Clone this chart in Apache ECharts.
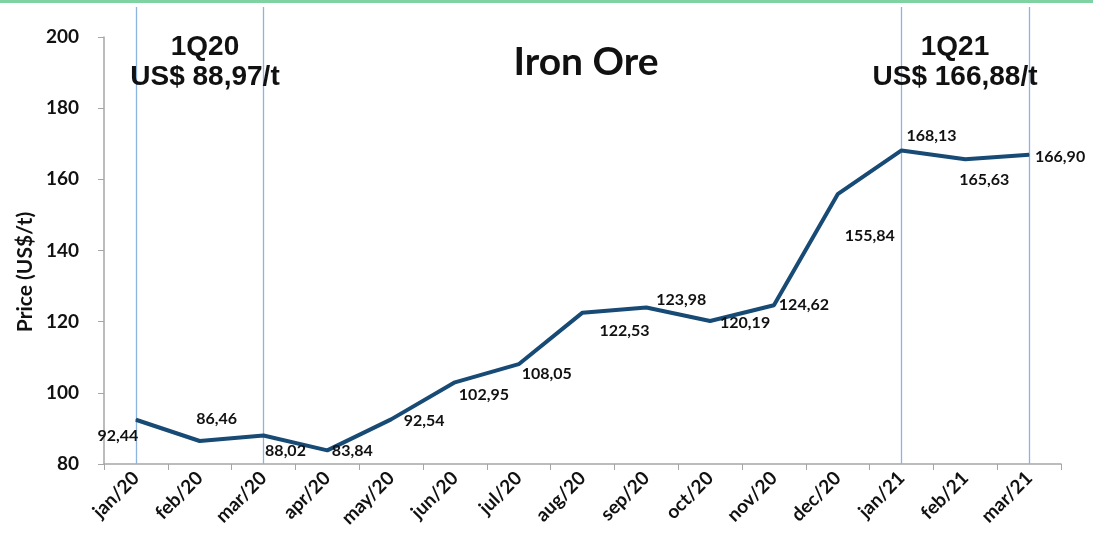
<!DOCTYPE html>
<html>
<head>
<meta charset="utf-8">
<script src="https://cdn.jsdelivr.net/npm/echarts@6/dist/echarts.min.js"></script>
<style>
html,body{margin:0;padding:0;background:#fff;}
#chart{width:1093px;height:533px;}
</style>
</head>
<body>
<div id="chart"></div>
<script>
const categories = ['jan/20','feb/20','mar/20','apr/20','may/20','jun/20','jul/20','aug/20','sep/20','oct/20','nov/20','dec/20','jan/21','feb/21','mar/21'];
const prices = [92.44, 86.46, 88.02, 83.84, 92.54, 102.95, 108.05, 122.53, 123.98, 120.19, 124.62, 155.84, 168.13, 165.63, 166.90];
const yTicks = [80, 100, 120, 140, 160, 180, 200];
const quarterMarkers = ['jan/20', 'mar/20', 'jan/21', 'mar/21'];
const quarterNotes = [
  { label: '1Q20', value: 'US$ 88,97/t' },
  { label: '1Q21', value: 'US$ 166,88/t' }
];

// label placement (styling only)
const labelOffsets = [[-18,16],[17,-22],[22,15],[25,1],[33,1],[29,13],[28,10],[42,18],[35,-8],[35,2],[30,0],[32,42],[30,-15],[19,21],[31,2]];

const fmt = v => v.toFixed(2).replace('.', ',');

const lineData = prices.map((v, i) => ({
  value: v,
  label: { offset: labelOffsets[i] }
}));

const chart = echarts.init(document.getElementById('chart'), null, { renderer: 'canvas' });
const labelFont = 'Lato, "Open Sans", sans-serif';
const titleFont = '"Liberation Sans", Arial, sans-serif';

chart.setOption({
  backgroundColor: '#ffffff',
  animation: false,
  title: [
    { text: 'Iron Ore', left: 581, top: 38, textAlign: 'center',
      textStyle: { fontFamily: labelFont, fontWeight: 'bold', fontSize: 39, color: '#111' } },
    { text: quarterNotes[0].label + '\n' + quarterNotes[0].value, left: 200, top: 27, textAlign: 'center',
      textStyle: { fontFamily: titleFont, fontWeight: 'bold', fontSize: 28, lineHeight: 30, color: '#111', align: 'center' } },
    { text: quarterNotes[1].label + '\n' + quarterNotes[1].value, left: 950, top: 27, textAlign: 'center',
      textStyle: { fontFamily: titleFont, fontWeight: 'bold', fontSize: 28, lineHeight: 30, color: '#111', align: 'center' } }
  ],
  graphic: [
    { type: 'rect', left: 0, top: 0, shape: { width: 1093, height: 3 }, style: { fill: '#7fd3a2' }, z: 100 },
    { type: 'text', x: 25, y: 272, rotation: Math.PI / 2,
      style: { text: 'Price (US$/t)', fill: '#111', font: 'bold 21px ' + labelFont, align: 'center', verticalAlign: 'middle' } }
  ],
  grid: [
    { left: 104, right: 32, top: 37, bottom: 69, containLabel: false },
    { left: 104, right: 32, top: 7, bottom: 69, containLabel: false }
  ],
  xAxis: [
    {
      type: 'category', gridIndex: 0, data: categories, boundaryGap: true,
      axisLine: { show: true, lineStyle: { color: '#a6a6a6', width: 1.5 } },
      axisTick: { show: true, length: 6, alignWithLabel: false, lineStyle: { color: '#a6a6a6' } },
      axisLabel: { rotate: 45, margin: 11, interval: 0, color: '#111',
        fontFamily: labelFont, fontWeight: 'bold', fontSize: 19 },
      splitLine: { show: false }
    },
    { type: 'category', gridIndex: 1, data: categories, boundaryGap: true, show: false }
  ],
  yAxis: [
    {
      type: 'value', gridIndex: 0, min: yTicks[0], max: yTicks[yTicks.length - 1], interval: 20,
      axisLine: { show: true, lineStyle: { color: '#a6a6a6', width: 1.5 } },
      axisTick: { show: true, length: 6, lineStyle: { color: '#a6a6a6' } },
      axisLabel: { margin: 25, color: '#111', fontFamily: labelFont, fontWeight: 'bold', fontSize: 19 },
      splitLine: { show: false }
    },
    { type: 'value', gridIndex: 1, min: 0, max: 1, show: false }
  ],
  series: [
    {
      type: 'line', xAxisIndex: 1, yAxisIndex: 1, data: [], silent: true,
      markLine: {
        silent: true, symbol: ['none', 'none'], label: { show: false },
        lineStyle: { color: '#8fb3e0', width: 1.3, type: 'solid' },
        data: quarterMarkers.map(c => ({ xAxis: c }))
      }
    },
    {
      type: 'line', xAxisIndex: 0, yAxisIndex: 0, data: lineData,
      symbol: 'circle', symbolSize: 1, showSymbol: true,
      itemStyle: { color: '#174a74' },
      lineStyle: { color: '#174a74', width: 4 },
      z: 5,
      label: {
        show: true, position: 'inside', color: '#111',
        fontFamily: labelFont, fontWeight: 'bold', fontSize: 16,
        formatter: p => fmt(p.value)
      }
    }
  ]
});
</script>
</body>
</html>
